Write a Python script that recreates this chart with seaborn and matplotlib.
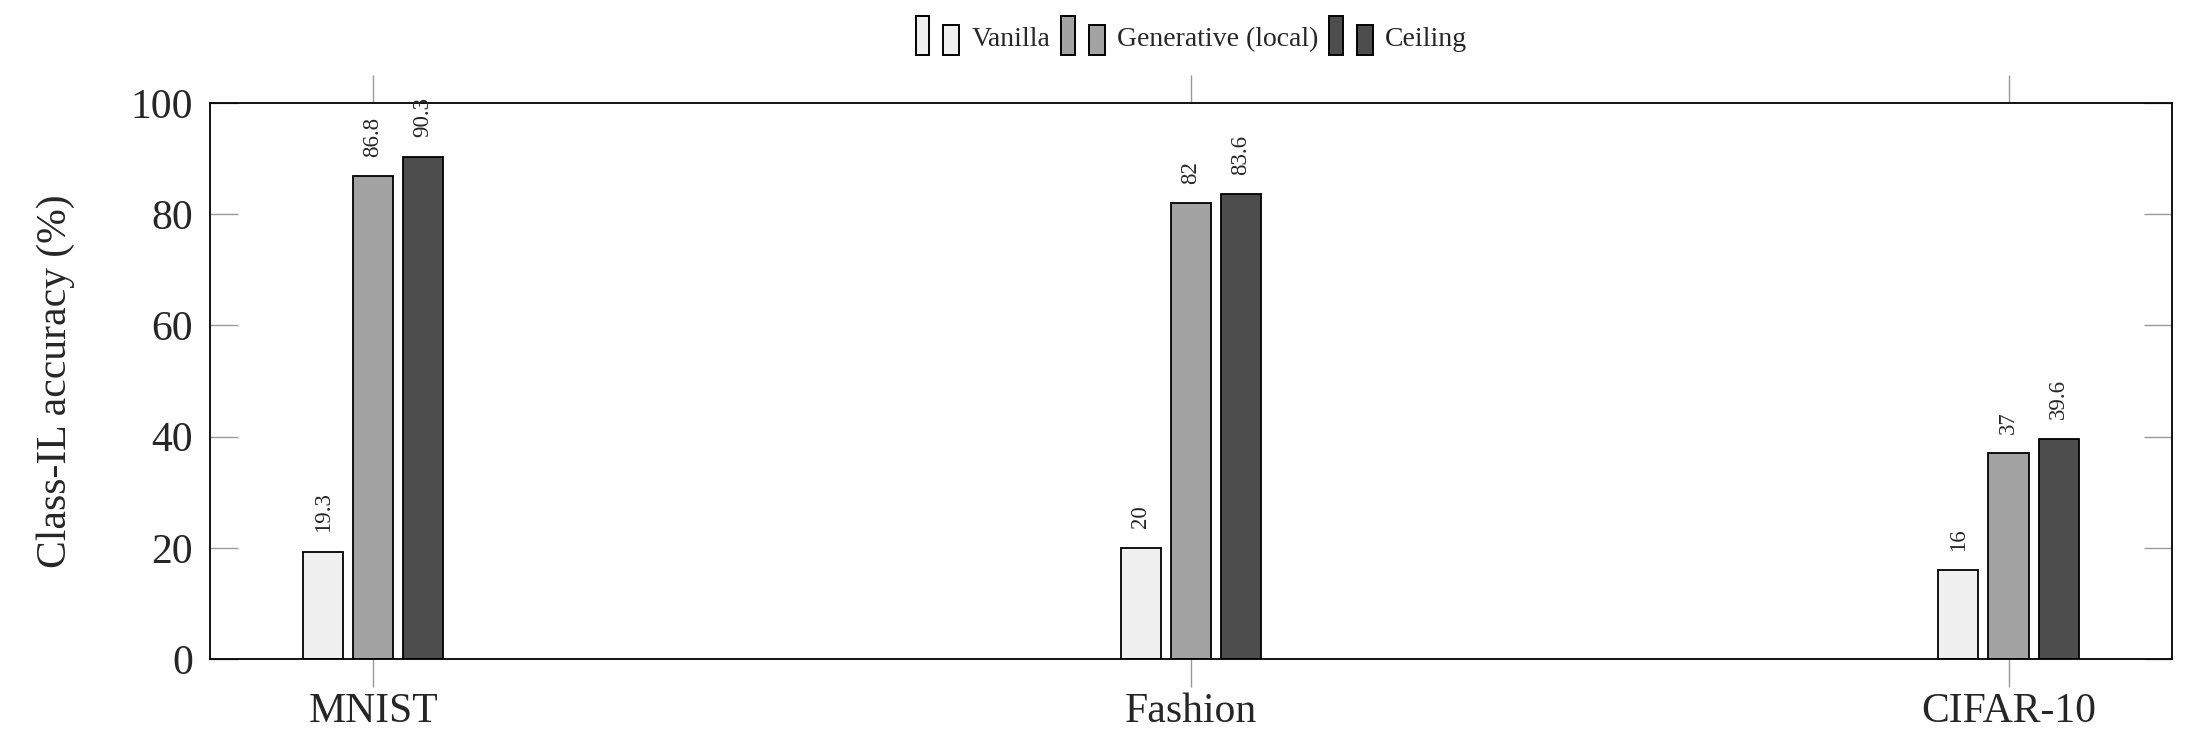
import matplotlib
matplotlib.use('Agg')
import matplotlib.pyplot as plt
from matplotlib.legend_handler import HandlerBase
from matplotlib.patches import Rectangle, Patch
import seaborn as sns
import pandas as pd

datasets = ['MNIST', 'Fashion', 'CIFAR-10']
methods = ['Vanilla', 'Generative (local)', 'Ceiling']
vanilla = [19.3, 20, 16]
generative = [86.8, 82, 37]
ceiling = [90.3, 83.6, 39.6]
colores = ['#f0f0f0', '#a3a3a3', '#4d4d4d']

df = pd.DataFrame({
    'dataset': datasets * 3,
    'method': [m for m in methods for _ in datasets],
    'acc': vanilla + generative + ceiling,
})

sns.set_style('white')
plt.rcParams['font.family'] = ['Liberation Serif', 'DejaVu Serif']


class DoubleBar(HandlerBase):
    # pgfplots style legend image: two little bars
    def create_artists(self, legend, orig_handle, xdescent, ydescent,
                       width, height, fontsize, trans):
        fc = orig_handle.get_facecolor()
        r1 = Rectangle((-xdescent, -ydescent - 0.45 * height), 0.3 * width, 2.0 * height,
                       facecolor=fc, edgecolor='black', lw=1.4, transform=trans)
        r2 = Rectangle((-xdescent + 0.62 * width, -ydescent - 0.45 * height), 0.36 * width, 1.55 * height,
                       facecolor=fc, edgecolor='black', lw=1.4, transform=trans)
        return [r1, r2]


fig = plt.figure(figsize=(21.9, 7.43), dpi=100)
ax = fig.add_axes([0.0957, 0.1131, 0.8961, 0.7483])

sns.barplot(data=df, x='dataset', y='acc', hue='method', order=datasets,
            hue_order=methods, palette=colores, width=0.1835, gap=0.2,
            edgecolor='black', linewidth=1.3, saturation=1, ax=ax, legend=False)

for cont in ax.containers:
    ax.bar_label(cont, fmt='%g', rotation=90, padding=14, fontsize=16.5, clip_on=False)

ax.set_xlim(-0.2, 2.2)
ax.set_ylim(0, 100)
ax.set_yticks([0, 20, 40, 60, 80, 100])
ax.set_xlabel('')
ax.set_ylabel('Class-IL accuracy (%)', fontsize=30, labelpad=40)
ax.tick_params(axis='y', direction='in', left=True, right=True, length=20,
               color='#999999', width=1, labelsize=30, pad=12)
ax.tick_params(axis='x', direction='out', bottom=True, top=True, length=20,
               color='#999999', width=1, labelsize=30, pad=4)
for s in ax.spines.values():
    s.set_color('black')
    s.set_linewidth(1.3)

handles = [Patch(facecolor=c, edgecolor='black') for c in colores]
fig.legend(handles, methods, loc='upper center', bbox_to_anchor=(0.544, 0.998), ncol=3,
           frameon=False, fontsize=20, handler_map={Patch: DoubleBar()},
           handlelength=1.6, handletextpad=0.4, columnspacing=0.4)

plt.savefig('out.png', dpi=100)
